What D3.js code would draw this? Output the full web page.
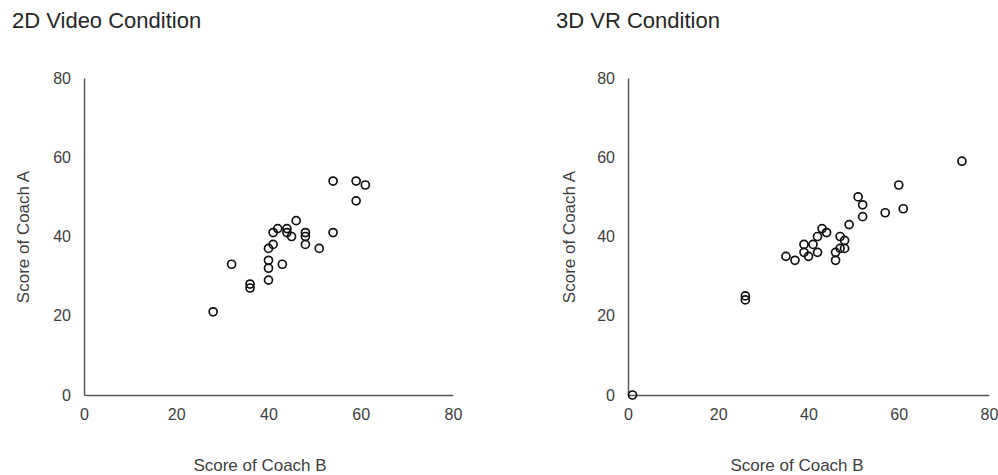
<!DOCTYPE html>
<html>
<head>
<meta charset="utf-8">
<script src="https://cdn.jsdelivr.net/npm/d3@7"></script>
<style>
  body { margin: 0; background: #fff; }
  svg text { font-family: Arial, "Liberation Sans", sans-serif; fill: #404040; }
  .axis path { stroke: #595959; stroke-width: 1.5; }
</style>
</head>
<body>
<div id="chart"></div>
<script>
// tick labels shared by both panels
const tickValues = [0, 20, 40, 60, 80];

// 2D video condition: score of coach B (x) vs coach A (y)
const videoCoachB = [28, 32, 36, 36, 40, 40, 40, 40, 41, 41, 42, 44, 44, 45, 46, 43, 48, 48, 48, 51, 54, 54, 59, 61, 59];
const videoCoachA = [21, 33, 28, 27, 29, 32, 34, 37, 38, 41, 42, 42, 41, 40, 44, 33, 41, 40, 38, 37, 41, 54, 54, 53, 49];

// 3D VR condition
const vrCoachB = [1, 26, 26, 35, 37, 39, 39, 40, 41, 42, 42, 43, 44, 47, 48, 47, 48, 46, 46, 49, 52, 51, 52, 57, 61, 60, 74];
const vrCoachA = [0, 25, 24, 35, 34, 38, 36, 35, 38, 36, 40, 42, 41, 40, 39, 37, 37, 36, 34, 43, 45, 50, 48, 46, 47, 53, 59];

const svg = d3.select("#chart")
    .append("svg")
        .attr("width", 998)
        .attr("height", 475);

function drawPanel(opts) {
    const x = d3.scaleLinear().domain([0, 80]).range([opts.x0, opts.x1]);
    const y = d3.scaleLinear().domain([0, 80]).range([395, 78]);

    // title
    svg.append("text")
        .attr("x", opts.titleX)
        .attr("y", 28)
        .style("font-size", "22px")
        .style("fill", "#262626")
        .text(opts.title);

    // x axis
    svg.append("g")
        .attr("class", "axis")
        .attr("transform", "translate(0,395)")
        .call(d3.axisBottom(x).tickValues(tickValues).tickSize(0).tickPadding(14))
        .call(g => g.selectAll("text").style("font-size", "16px").style("fill", "#404040"));

    // y axis
    svg.append("g")
        .attr("class", "axis")
        .attr("transform", "translate(" + opts.x0 + ",0)")
        .call(d3.axisLeft(y).tickValues(tickValues).tickSize(0).tickPadding(13))
        .call(g => g.selectAll("text").style("font-size", "16px").style("fill", "#404040"));

    // axis titles
    svg.append("text")
        .attr("x", opts.xTitleX)
        .attr("y", 471)
        .attr("text-anchor", "middle")
        .style("font-size", "17px")
        .text("Score of Coach B");

    svg.append("text")
        .attr("transform", "translate(" + opts.yTitleX + ",237) rotate(-90)")
        .attr("text-anchor", "middle")
        .style("font-size", "17px")
        .text("Score of Coach A");

    // points
    const data = opts.xs.map((v, i) => ({ b: v, a: opts.ys[i] }));
    svg.append("g")
        .selectAll("circle")
        .data(data)
        .join("circle")
            .attr("cx", d => x(d.b))
            .attr("cy", d => y(d.a))
            .attr("r", 4)
            .attr("fill", "none")
            .attr("stroke", "#111")
            .attr("stroke-width", 1.7);
}

drawPanel({ title: "2D Video Condition", titleX: 12, x0: 84, x1: 453, xTitleX: 260, yTitleX: 29,
    xs: videoCoachB, ys: videoCoachA });
drawPanel({ title: "3D VR Condition", titleX: 556, x0: 628, x1: 989, xTitleX: 797, yTitleX: 575,
    xs: vrCoachB, ys: vrCoachA });
</script>
</body>
</html>
